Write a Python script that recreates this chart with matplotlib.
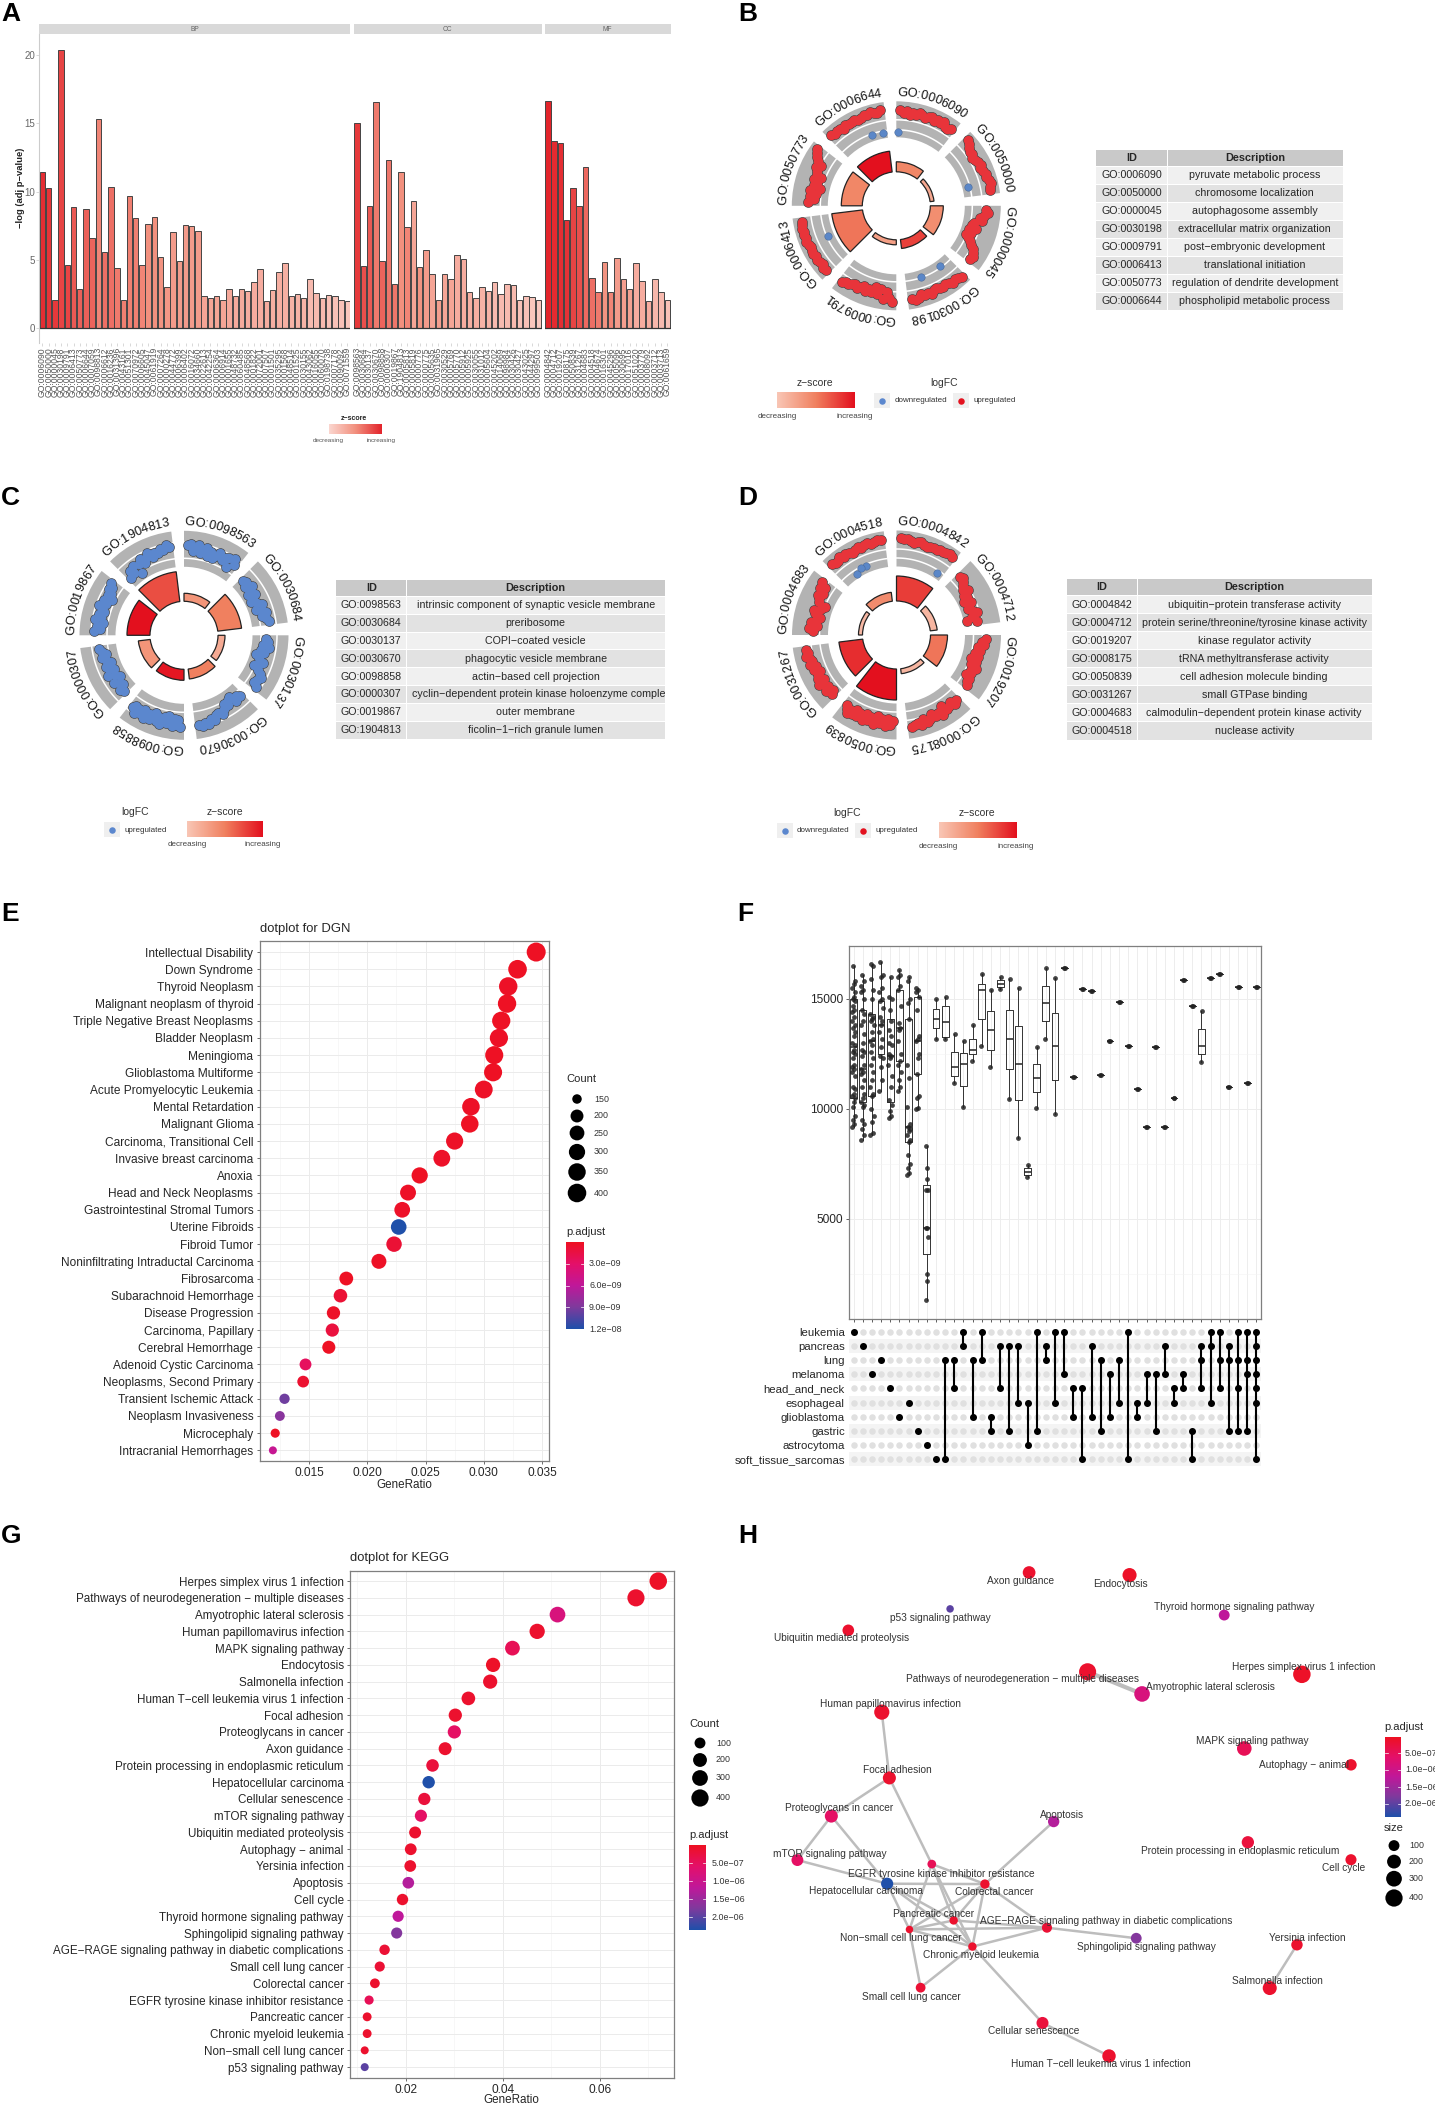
import numpy as np
import matplotlib
matplotlib.use("Agg")
import matplotlib.pyplot as plt
from matplotlib.colors import LinearSegmentedColormap, Normalize
from matplotlib.patches import Rectangle

plt.rcParams['font.family'] = ['Liberation Sans', 'DejaVu Sans']
W, H = 1435, 2105
fig = plt.figure(figsize=(W / 100, H / 100), dpi=100, facecolor='white')

# ---------------- DATA ----------------
A_BP = [11.45, 10.3, 2.1, 20.4, 4.65, 8.85, 2.85, 8.75, 6.65, 15.3, 5.6, 10.35, 4.45, 2.1, 9.7, 8.1, 4.65, 7.65, 8.15, 5.25,
        3.0, 7.05, 4.9, 7.6, 7.5, 7.15, 2.4, 2.2, 2.35, 2.05, 2.9, 2.4, 2.85, 2.75, 3.4, 4.35, 2.0, 2.8, 4.15, 4.8,
        2.35, 2.5, 2.25, 3.65, 2.6, 2.25, 2.45, 2.35, 2.1, 2.0]
A_CC = [15.05, 4.55, 8.95, 16.6, 4.95, 12.3, 3.25, 11.45, 7.45, 9.3, 4.5, 5.75, 4.0, 2.1, 4.0, 3.65, 5.4, 5.05, 2.7, 2.25,
        3.0, 2.75, 3.4, 2.55, 3.25, 3.15, 2.1, 2.4, 2.3, 2.05]
A_MF = [16.65, 13.75, 13.55, 7.9, 10.3, 8.95, 11.8, 3.7, 2.7, 4.85, 2.65, 5.15, 3.6, 2.85, 4.75, 3.5, 2.0, 3.6, 2.7, 2.1]
A_BP_Z = [.95, .92, .9, .85, .85, .75, .72, .72, .7, .55, .65, .65, .6, .58, .58, .58, .55, .5, .5, .48, .45, .42, .42, .42, .42, .42,
          .35, .35, .35, .35, .33, .32, .32, .3, .3, .3, .3, .28, .28, .27, .25, .25, .25, .2, .2, .2, .15, .15, .15, .12]
A_CC_Z = [.9, .8, .75, .6, .7, .62, .62, .5, .55, .35, .48, .42, .35, .4, .35, .35, .3, .3, .28, .28, .25, .25, .2, .2, .2, .2, .15, .15, .12, .1]
A_MF_Z = [1.0, .97, .95, .93, .85, .8, .68, .65, .6, .48, .55, .42, .4, .38, .3, .3, .3, .22, .2, .15]
A_BP_ID = ["0006090", "0050000", "0000045", "0030198", "0009791", "0006413", "0050773", "0006644", "0007059", "0098813",
           "0006612", "0016236", "0031396", "0043161", "0051301", "0070972", "0006605", "0045047", "0061919", "0007264",
           "0000278", "0044772", "0006399", "0006402", "0016072", "0034660", "0022613", "0042254", "0006364", "0006914",
           "0001655", "0048732", "0060485", "0048568", "0001822", "0072001", "0007507", "0001501", "0035295", "0001568",
           "0048514", "0001525", "0030155", "0043062", "0016055", "0060070", "0198738", "0007178", "0090092", "0071559"]
A_CC_ID = ["0098563", "0030684", "0030137", "0030670", "0098858", "0000307", "0019867", "1904813", "0005813", "0005819",
           "0000776", "0000775", "0005635", "0031965", "0030529", "0005769", "0005770", "0005912", "0005925", "0030055",
           "0031012", "0005604", "0045202", "0014069", "0098984", "0030426", "0030427", "0043025", "0044297", "0099503"]
A_MF_ID = ["0004842", "0004712", "0019207", "0008175", "0050839", "0031267", "0004683", "0004518", "0004674", "0016301",
           "0045296", "0005096", "0030695", "0017016", "0051020", "0003779", "0008092", "0003712", "0003713", "0061659"]

B_ID = ["GO:0006090", "GO:0050000", "GO:0000045", "GO:0030198", "GO:0009791", "GO:0006413", "GO:0050773", "GO:0006644"]
B_DESC = ["pyruvate metabolic process", "chromosome localization", "autophagosome assembly", "extracellular matrix organization",
          "post−embryonic development", "translational initiation", "regulation of dendrite development", "phospholipid metabolic process"]
C_ID = ["GO:0098563", "GO:0030684", "GO:0030137", "GO:0030670", "GO:0098858", "GO:0000307", "GO:0019867", "GO:1904813"]
C_DESC = ["intrinsic component of synaptic vesicle membrane", "preribosome", "COPI−coated vesicle", "phagocytic vesicle membrane",
          "actin−based cell projection", "cyclin−dependent protein kinase holoenzyme complex", "outer membrane", "ficolin−1−rich granule lumen"]
D_ID = ["GO:0004842", "GO:0004712", "GO:0019207", "GO:0008175", "GO:0050839", "GO:0031267", "GO:0004683", "GO:0004518"]
D_DESC = ["ubiquitin−protein transferase activity", "protein serine/threonine/tyrosine kinase activity", "kinase regulator activity",
          "tRNA methyltransferase activity", "cell adhesion molecule binding", "small GTPase binding",
          "calmodulin−dependent protein kinase activity", "nuclease activity"]

B_BAR_R = [44, 38, 47, 43, 39, 65, 55, 55]
B_BAR_Z = [.45, .22, .4, .78, .28, .55, .45, 1.0]
C_BAR_R = [42, 58, 41, 44, 45, 46, 57, 64]
C_BAR_Z = [.35, .5, .2, .5, .97, .35, 1.0, .72]
D_BAR_R = [59, 41, 51, 39, 65, 58, 38, 43]
D_BAR_Z = [.8, .12, .55, .12, 1.0, .87, .1, .42]

B_UP = [[96, 93, 95, 92, 94, 93, 96, 94, 92, 95, 96, 93, 95, 94, 96, 93, 92, 94],
        [97, 95, 93, 91, 92, 90, 91, 93, 94, 92, 93, 95, 94, 96, 97, 96, 95],
        [90, 92, 88, 85, 87, 80, 78, 83, 76, 80, 75, 78, 82, 84, 88, 90, 92, 91],
        [97, 95, 94, 96, 93, 92, 94, 93, 91, 92, 95, 93, 94, 92, 95, 96, 94],
        [96, 92, 87, 94, 85, 90, 84, 90, 87, 91, 86, 89, 91, 88, 90, 92, 91, 93],
        [95, 96, 94, 95, 96, 95, 96, 96, 95, 96, 97, 96, 97, 96, 97, 96, 96],
        [88, 83, 87, 81, 88, 78, 85, 83, 87, 80, 85, 87, 89, 85, 90, 93, 95, 97],
        [96, 94, 96, 95, 93, 96, 94, 95, 96, 94, 95, 96, 95, 97, 96, 95, 97]]
B_DOWN_T = [1, 75, 144, 161, 246, 350, 341]
B_DOWN_R = [74, 74, 75, 75, 75, 74, 75]
C_UP = [[90, 92, 85, 88, 92, 84, 86, 90, 83, 88, 82, 85, 90, 87, 84, 88, 90, 80, 92, 86],
        [80, 82, 78, 84, 80, 76, 82, 78, 75, 80, 84, 76, 82, 85, 80, 84, 86],
        [82, 84, 80, 86, 78, 82, 74, 78, 84, 80, 76, 82, 85, 88, 86, 84, 89],
        [83, 80, 84, 76, 78, 82, 80, 84, 88, 85, 86, 90, 88, 92, 90, 93, 91],
        [92, 85, 90, 84, 92, 86, 82, 90, 84, 88, 92, 85, 90, 83, 87, 91, 86, 88, 92, 84, 88, 90, 86, 92, 85, 88],
        [82, 84, 78, 80, 85, 76, 80, 86, 78, 82, 84, 78, 82, 85, 80, 84, 86],
        [90, 84, 88, 82, 90, 85, 88, 83, 86, 90, 84, 88, 80, 86, 84, 88, 86, 90],
        [78, 84, 80, 86, 75, 84, 88, 82, 86, 90, 84, 88, 86, 90, 88, 92, 90]]
D_UP = [[97, 96, 97, 95, 94, 95, 96, 94, 93, 94, 95, 94, 96, 95, 96, 97, 96],
        [86, 88, 85, 83, 80, 84, 78, 80, 75, 82, 78, 76, 80, 84, 78, 72, 82],
        [90, 86, 88, 82, 85, 80, 84, 78, 84, 80, 86, 82, 84, 80, 85, 84, 86],
        [88, 90, 86, 88, 90, 84, 92, 88, 90, 86, 90, 92, 88, 93, 91, 92, 93],
        [86, 90, 84, 92, 88, 85, 90, 83, 92, 87, 86, 90, 84, 92, 88, 86, 90, 85, 91, 88, 92, 89, 86],
        [88, 84, 90, 86, 88, 92, 85, 90, 88, 84, 90, 86, 92, 88, 90, 93, 90, 92],
        [84, 88, 80, 86, 82, 78, 84, 86, 80, 77, 84, 86, 88, 84, 90, 86, 91],
        [96, 94, 95, 97, 94, 96, 95, 93, 95, 96, 94, 96, 97, 95, 96, 97, 96]]
D_DOWN_T = [33, 336, 327, 332]
D_DOWN_R = [74, 75, 73, 76]

E_NAMES = ["Intellectual Disability", "Down Syndrome", "Thyroid Neoplasm", "Malignant neoplasm of thyroid",
           "Triple Negative Breast Neoplasms", "Bladder Neoplasm", "Meningioma", "Glioblastoma Multiforme",
           "Acute Promyelocytic Leukemia", "Mental Retardation", "Malignant Glioma", "Carcinoma, Transitional Cell",
           "Invasive breast carcinoma", "Anoxia", "Head and Neck Neoplasms", "Gastrointestinal Stromal Tumors",
           "Uterine Fibroids", "Fibroid Tumor", "Noninfiltrating Intraductal Carcinoma", "Fibrosarcoma",
           "Subarachnoid Hemorrhage", "Disease Progression", "Carcinoma, Papillary", "Cerebral Hemorrhage",
           "Adenoid Cystic Carcinoma", "Neoplasms, Second Primary", "Transient Ischemic Attack", "Neoplasm Invasiveness",
           "Microcephaly", "Intracranial Hemorrhages"]
E_RATIO = [.0345, .0329, .0321, .0320, .0315, .0313, .0309, .0308, .0300, .0289, .0288, .0275, .0264, .0245, .0235,
           .0230, .0227, .0223, .0210, .0182, .0177, .0171, .0170, .0167, .0147, .0145, .0129, .0125, .0121, .0119]
E_COUNT = [421, 401, 392, 390, 384, 382, 377, 376, 366, 353, 351, 336, 322, 299, 287, 281, 277, 272, 256, 222, 216, 209,
           207, 204, 179, 177, 157, 153, 148, 145]
E_PADJ = [.1, .1, .2, .1, .1, .2, .1, .1, .2, .2, .1, .2, .3, .1, .2, .3, 12, .8, .2, .1, .8, .2, 1.2, .1, 2.5, .6, 9.5, 8.5, .1, 5.5]

G_NAMES = ["Herpes simplex virus 1 infection", "Pathways of neurodegeneration − multiple diseases", "Amyotrophic lateral sclerosis",
           "Human papillomavirus infection", "MAPK signaling pathway", "Endocytosis", "Salmonella infection",
           "Human T−cell leukemia virus 1 infection", "Focal adhesion", "Proteoglycans in cancer", "Axon guidance",
           "Protein processing in endoplasmic reticulum", "Hepatocellular carcinoma", "Cellular senescence", "mTOR signaling pathway",
           "Ubiquitin mediated proteolysis", "Autophagy − animal", "Yersinia infection", "Apoptosis", "Cell cycle",
           "Thyroid hormone signaling pathway", "Sphingolipid signaling pathway", "AGE−RAGE signaling pathway in diabetic complications",
           "Small cell lung cancer", "Colorectal cancer", "EGFR tyrosine kinase inhibitor resistance", "Pancreatic cancer",
           "Chronic myeloid leukemia", "Non−small cell lung cancer", "p53 signaling pathway"]
G_RATIO = [.0721, .0675, .0513, .0471, .0420, .0380, .0374, .0329, .0302, .0300, .0281, .0255, .0247, .0238, .0231, .0219,
           .0210, .0209, .0205, .0193, .0184, .0181, .0156, .0146, .0136, .0124, .0120, .0120, .0115, .0115]
G_COUNT = [418, 391, 298, 273, 244, 220, 217, 191, 175, 174, 163, 148, 143, 138, 134, 127, 122, 121, 119, 112, 107, 105, 90,
           85, 79, 72, 70, 70, 67, 67]
G_PADJ = [.05, .1, .75, .1, .4, .05, .1, .1, .1, .5, .1, .2, 2.2, .2, .5, .1, .1, .1, 1.2, .1, 1.1, 1.6, .15, .15, .1, .4, .1, .1, .1, 1.85]

UP_ROWS = ["leukemia", "pancreas", "lung", "melanoma", "head_and_neck", "esophageal", "glioblastoma", "gastric", "astrocytoma",
           "soft_tissue_sarcomas"]
UP_SETS = [[0], [1], [3], [2], [4], [6], [5], [7], [8], [9], [2, 9], [2, 4], [0, 1], [2, 6], [0, 2], [6, 7], [1, 4], [1, 7], [1, 5],
           [5, 8], [0, 7], [1, 2], [0, 5], [0, 3], [4, 6], [4, 9], [1, 6], [2, 7], [3, 6], [2, 5], [0, 9], [5, 6], [3, 5], [3, 7],
           [1, 3], [4, 5], [3, 4], [7, 9], [1, 2, 4], [0, 1, 5], [0, 2, 4], [1, 2, 7], [0, 2, 4, 7], [0, 2, 3, 7], [0, 1, 2, 3, 4, 5, 9]]
# q1, median, q3, low whisker, high whisker per intersection
UP_BOX = [(10500, 12800, 15000, 9200, 16500), (10300, 11800, 14500, 8600, 16100), (10600, 13100, 14300, 8800, 16600),
          (12500, 13800, 14900, 10800, 16700), (10300, 12400, 14100, 9600, 16000), (12200, 13700, 15400, 10800, 16300),
          (8500, 9200, 14100, 7000, 16000), (11600, 13100, 15100, 10000, 15500), (3400, 4600, 6550, 1300, 8300),
          (13700, 14100, 14550, 13200, 15000), (13250, 13950, 14700, 13200, 15100), (11500, 11900, 12600, 11200, 13400),
          (11050, 12050, 12550, 10100, 13100), (12500, 12700, 13200, 12200, 13800), (14100, 15400, 15700, 12850, 16150),
          (12700, 13600, 14450, 11900, 15400), (15550, 15700, 15850, 15450, 16000), (11800, 13200, 14500, 10450, 15900),
          (10400, 12050, 13750, 8700, 15500), (7000, 7150, 7300, 6900, 7450), (10750, 11400, 12050, 10050, 12800),
          (14000, 14800, 15600, 13200, 16400), (11300, 12850, 14350, 9750, 15950)]
UP_SINGLE = [16400, 11460, 15436, 15350, 11543, 13070, 14880, 12850, 10920, 9160, 12800, 9180, 10490, 15870, 14680]
UP_BOX_38 = (12480, 12850, 13650, 12150, 14450)
UP_SINGLE_B = [15940, 16120, 11020, 15550, 11190, 15550]
UP_DENSE = [
    [9200, 9300, 9500, 9700, 10100, 10300, 10500, 10600, 10700, 10900, 11000, 11500, 11700, 11800, 11900, 12000, 12300, 12500, 12600, 12700, 12900, 13000, 13300, 13500, 13700, 13800, 14000, 14200, 14400, 14500, 14700, 14900, 15000, 15100, 15300, 15500, 15700, 15800, 16500],
    [8600, 8800, 9100, 9300, 9500, 10100, 10200, 10300, 10500, 10700, 11000, 11300, 11600, 11700, 11800, 12000, 12400, 12600, 12700, 13000, 13400, 13800, 14000, 14300, 14500, 15000, 15300, 15400, 15600, 15800, 16100],
    [8800, 8900, 9400, 9700, 10000, 10600, 10700, 11000, 11300, 11700, 12000, 12300, 12600, 12900, 13100, 13200, 13500, 13800, 14000, 14100, 14200, 14300, 15000, 15400, 15900, 16500, 16600],
    [10800, 11300, 11900, 12300, 12400, 12800, 13200, 13500, 13800, 14000, 14200, 14600, 14900, 15000, 15300, 15500, 16000, 16100, 16700],
    [9600, 9700, 9900, 10200, 10400, 11000, 11500, 12000, 12300, 12400, 12500, 12900, 13000, 13300, 13600, 14000, 14500, 15000, 15100, 16000],
    [10800, 11000, 11300, 11700, 12000, 12200, 12500, 13100, 13600, 13700, 13900, 14700, 15400, 15600, 16000, 16100, 16300],
    [7000, 7100, 7300, 7500, 7900, 8500, 8600, 8800, 9000, 9100, 9200, 9300, 10100, 11400, 12000, 14100, 14800, 15000, 15800, 16000],
    [10000, 10050, 10500, 10600, 11600, 12300, 12500, 13100, 13200, 13300, 14500, 15100, 15300, 15400, 15500]]
UP_ASTRO = [1300, 2200, 2500, 4200, 4600, 4600, 6300, 6300, 6800, 7300, 8300]
JITTER = [-.17, .09, -.04, .19, -.11, .04, .15, -.19, .0, .12, -.08, .17, -.14, .06]

H_X = [1281, 801, 923, 340, 1152, 895, 1209, 849, 357, 227, 670, 1160, 352, 700, 151, 265, 1391, 1270, 725, 1391, 1107, 910, 710, 427, 571, 452, 501, 543, 402, 493]
H_Y = [397, 390, 451, 501, 601, 124, 1260, 1447, 682, 787, 117, 859, 973, 1356, 908, 276, 646, 1141, 802, 907, 234, 1123, 1094, 1259, 974, 919, 1074, 1146, 1099, 217]
H_LX = [1285, 655, 1076, 360, 1171, 874, 1226, 831, 376, 245, 650, 1142, 305, 680, 223, 250, 1285, 1293, 744, 1374, 1129, 932, 842, 406, 592, 474, 455, 563, 383, 472]
H_LY = [377, 411, 433, 480, 581, 148, 1240, 1469, 660, 765, 139, 882, 994, 1379, 890, 298, 647, 1122, 784, 931, 212, 1148, 1075, 1284, 996, 945, 1055, 1169, 1122, 243]
H_EDGES = [(1, 2), (17, 6), (13, 7), (13, 27), (3, 8), (8, 9), (8, 25), (9, 14), (9, 12), (14, 12), (18, 24), (12, 24), (12, 28), (12, 26),
           (12, 27), (25, 24), (25, 28), (25, 26), (25, 27), (24, 26), (24, 28), (24, 27), (24, 22), (26, 28), (26, 27), (26, 22),
           (28, 27), (28, 22), (28, 23), (27, 23), (27, 22), (22, 21)]

# ---------------- HELPERS ----------------
def px_axes(x0, y0, x1, y1, **kw):
    return fig.add_axes([x0 / W, 1 - y1 / H, (x1 - x0) / W, (y1 - y0) / H], **kw)

RED = '#E3121F'
CM_A = LinearSegmentedColormap.from_list('a', ['#FBD6CF', '#F2907E', '#E3242B'])
CM_Z = LinearSegmentedColormap.from_list('z', ['#F9C6B5', '#F0805F', '#E3101E'])
CM_P = LinearSegmentedColormap.from_list('p', ['#EE1122', '#E4106A', '#C0189A', '#7F3A9D', '#1F50AA'])
GRID = '#EBEBEB'
BORDER = '#7F7F7F'
TXT = '#262626'

def gradient(x0, y0, x1, y1, cmap, vertical=False):
    ax = px_axes(x0, y0, x1, y1)
    g = np.linspace(0, 1, 128)
    ax.imshow(g[:, None] if vertical else g[None, :], cmap=cmap, aspect='auto', origin='upper')
    ax.set_axis_off()
    return ax

def dot_d(c, cmin, cmax, dmin, dmax):
    return dmin + (dmax - dmin) * np.sqrt((np.asarray(c, float) - cmin) / (cmax - cmin))

def pt2(dpx):
    return (np.asarray(dpx) * 0.72) ** 2

# overlay axes in pixel coordinates (for text, tables and legends)
ov = fig.add_axes([0, 0, 1, 1], zorder=20)
ov.set_xlim(0, W); ov.set_ylim(H, 0); ov.set_axis_off(); ov.patch.set_alpha(0)

for s, x, y in [('A', 1, 14), ('B', 738, 14), ('C', 1, 498), ('D', 738, 498), ('E', 1, 914), ('F', 737, 914), ('G', 1, 1536), ('H', 738, 1536)]:
    ov.text(x, y, s, fontsize=19, fontweight='bold', ha='left', va='center', color='black')

# ---------------- PANEL A ----------------
def facet(x0, x1, vals, zs, ids, label, first=False):
    ax = px_axes(x0, 34, x1, 343)
    xs = np.arange(len(vals))
    ax.bar(xs, vals, width=0.88, color=CM_A(np.asarray(zs)), edgecolor='#444444', linewidth=0.7)
    ax.axhline(0, color='#333333', lw=0.9)
    ax.set_xlim(-0.5, len(vals) - 0.5)
    ax.set_ylim(-1.07, 21.55)
    for sp in ['top', 'right', 'bottom']:
        ax.spines[sp].set_visible(False)
    ax.spines['left'].set_color('#CCCCCC' if first else 'none')
    ax.set_xticks(xs)
    ax.set_xticklabels(['GO:' + i for i in ids], rotation=90, fontsize=6.2, color='#555555')
    ax.tick_params(axis='x', length=2, width=0.4, color='#BBBBBB', pad=1)
    if first:
        ax.set_yticks([0, 5, 10, 15, 20])
        ax.tick_params(axis='y', length=2, width=0.4, color='#BBBBBB', labelsize=7, labelcolor='#666666', pad=1)
    else:
        ax.set_yticks([])
    ov.add_patch(Rectangle((x0, 24), x1 - x0, 10, fc='#D9D9D9', ec='none'))
    ov.text((x0 + x1) / 2, 29.2, label, fontsize=4.8, color='#666666', ha='center', va='center')

facet(39.3, 350.4, A_BP, A_BP_Z, A_BP_ID, 'BP', True)
facet(354, 541.5, A_CC, A_CC_Z, A_CC_ID, 'CC')
facet(544.6, 670.5, A_MF, A_MF_Z, A_MF_ID, 'MF')
ov.text(21, 188, '−log (adj p−value)', rotation=90, fontsize=6.8, fontweight='bold', ha='center', va='center', color='#222222')
ov.text(354, 418, 'z−score', fontsize=5, fontweight='bold', ha='center', va='center', color='#222222')
gradient(328.6, 424, 381, 434, CM_A)
ov.text(328, 440.5, 'decreasing', fontsize=4.6, ha='center', va='center', color='#555555')
ov.text(381, 440.5, 'increasing', fontsize=4.6, ha='center', va='center', color='#555555')

# ---------------- GO CIRCLES ----------------
CHAR_W = {'G': .778, 'O': .778, ':': .278}

def go_circle(cx, cy, ids, bar_r, bar_z, up, up_col, down_t=None, down_r=None, r_in=68.5, arcs=(76, 86)):
    Rm = 135
    ax = px_axes(cx - Rm, cy - Rm, cx + Rm, cy + Rm, projection='polar')
    ax.set_theta_zero_location('N'); ax.set_theta_direction(-1)
    ax.set_rlim(0, Rm); ax.set_axis_off()
    span = 38
    for k in range(8):
        t0 = k * 45
        tc = np.deg2rad(t0 + span / 2)
        ax.bar(tc, 104.5 - r_in, width=np.deg2rad(span), bottom=r_in, color='#B3B3B3', edgecolor='none', zorder=1)
        th = np.deg2rad(np.linspace(t0, t0 + span, 40))
        for a in arcs:
            ax.plot(th, np.full_like(th, a), color='white', lw=1.1, zorder=2)
        ax.bar(tc, bar_r[k] - 34, width=np.deg2rad(span), bottom=34, color=CM_Z(bar_z[k]), edgecolor='#222222', linewidth=0.9, zorder=3)
        vals = up[k]
        tp = np.deg2rad(np.linspace(t0 + 2.5, t0 + span - 2.5, len(vals)))
        ax.scatter(tp, vals, s=pt2(10.6), color='#444444', linewidths=0, zorder=4)
        ax.scatter(tp, vals, s=pt2(9.4), color=up_col, linewidths=0, zorder=5)
        # curved label
        label = ids[k]
        widths = [CHAR_W.get(c, .556) * 12.8 for c in label]
        total = sum(widths)
        pos = -total / 2
        for c, w in zip(label, widths):
            ang = t0 + span / 2 + np.rad2deg((pos + w / 2) / 113)
            ax.text(np.deg2rad(ang), 113, c, fontsize=9.2, color='#111111',
                    rotation=-ang, rotation_mode='anchor', ha='center', va='center', zorder=6)
            pos += w
    if down_t is not None:
        ax.scatter(np.deg2rad(down_t), down_r, s=pt2(7.4), color='#5B87C8', edgecolors='#4A6A9A', linewidths=0.4, zorder=5)

BLUE = '#5B87CE'
UPRED = '#E8343A'
go_circle(896.3, 205.8, B_ID, B_BAR_R, B_BAR_Z, B_UP, UPRED, B_DOWN_T, B_DOWN_R)
go_circle(184, 635.3, C_ID, C_BAR_R, C_BAR_Z, C_UP, BLUE, arcs=(77, 93))
go_circle(896.5, 635, D_ID, D_BAR_R, D_BAR_Z, D_UP, UPRED, D_DOWN_T, D_DOWN_R, arcs=(77, 86))

def go_table(x0, x1, x2, y0, yh, y1, ids, desc, left=None):
    ov.add_patch(Rectangle((x0, y0), x1 - x0 - 0.5, yh - y0 - 0.5, fc='#C9C9C9', ec='none'))
    ov.add_patch(Rectangle((x1 + 0.5, y0), x2 - x1 - 0.5, yh - y0 - 0.5, fc='#C9C9C9', ec='none'))
    ov.text((x0 + x1) / 2, (y0 + yh) / 2, 'ID', fontsize=7.8, fontweight='bold', ha='center', va='center', color=TXT)
    ov.text((x1 + x2) / 2, (y0 + yh) / 2, 'Description', fontsize=7.8, fontweight='bold', ha='center', va='center', color=TXT)
    rh = (y1 - yh) / 8
    for i, (a, b) in enumerate(zip(ids, desc)):
        y = yh + i * rh
        col = '#F0F0F0' if i % 2 == 0 else '#E2E2E2'
        ov.add_patch(Rectangle((x0, y + .5), x1 - x0 - 0.5, rh - 1, fc=col, ec='none'))
        r = Rectangle((x1 + 0.5, y + .5), x2 - x1 - 0.5, rh - 1, fc=col, ec='none')
        ov.add_patch(r)
        ov.text((x0 + x1) / 2, y + rh / 2, a, fontsize=7.7, ha='center', va='center', color=TXT)
        if left is not None and i == left[0]:
            t = ov.text(left[1], y + rh / 2, b, fontsize=7.7, ha='left', va='center', color=TXT)
        else:
            t = ov.text((x1 + x2) / 2, y + rh / 2, b, fontsize=7.7, ha='center', va='center', color=TXT)
        t.set_clip_on(True)
        t.set_clip_path(r)

go_table(1096, 1167, 1342.5, 150, 166.5, 310, B_ID, B_DESC)
go_table(336, 406.5, 665, 580, 596.5, 739, C_ID, C_DESC, left=(5, 411.6))
go_table(1066.6, 1137, 1371.5, 579, 595.7, 740, D_ID, D_DESC)

def z_legend(xt, yt, x0, x1, y0, y1, yl):
    ov.text(xt, yt, 'z−score', fontsize=7.5, ha='center', va='center', color='#333333')
    gradient(x0, y0, x1, y1, CM_Z)
    ov.text(x0, yl, 'decreasing', fontsize=5.8, ha='center', va='center', color='#444444')
    ov.text(x1, yl, 'increasing', fontsize=5.8, ha='center', va='center', color='#444444')

def key(x0, x1, y0, y1, col, label):
    ov.add_patch(Rectangle((x0, y0), x1 - x0, y1 - y0, fc='#EFEFEF', ec='none'))
    ov.scatter([(x0 + x1) / 2], [(y0 + y1) / 2], s=pt2(6.5), color=col, linewidths=0, zorder=5)
    ov.text(x1 + 4.5, (y0 + y1) / 2 + .5, label, fontsize=5.8, ha='left', va='center', color='#333333')

z_legend(815, 383, 777, 854.5, 392, 408, 416)
ov.text(944, 383, 'logFC', fontsize=7.5, ha='center', va='center', color='#333333')
key(874, 890, 393, 408, BLUE, 'downregulated')
key(953, 969, 393, 408, RED, 'upregulated')
ov.text(135, 812, 'logFC', fontsize=7.5, ha='center', va='center', color='#333333')
key(104, 120, 822, 837, BLUE, 'upregulated')
z_legend(224.5, 812, 187, 263, 821, 837, 845)
ov.text(847, 813, 'logFC', fontsize=7.5, ha='center', va='center', color='#333333')
key(777, 792.5, 823, 838, BLUE, 'downregulated')
key(855, 871, 823, 838, RED, 'upregulated')
z_legend(977, 813, 938.5, 1015.7, 822, 838, 846)

# ---------------- DOT PLOTS ----------------
def dotplot(box, xlim, ylim, xticks, xminor, ticklab, names, ratio, count, padj, pmax, sizes, title, title_xy, xlabel_xy, fs):
    ax = px_axes(*box)
    ys = np.arange(len(names))[::-1]
    ax.set_axisbelow(True)
    ax.scatter(ratio, ys, s=pt2(sizes), c=padj, cmap=CM_P, norm=Normalize(0, pmax), linewidths=0, zorder=3)
    ax.set_xlim(*xlim); ax.set_ylim(*ylim)
    ax.set_yticks(ys); ax.set_yticklabels(names, fontsize=fs, color=TXT)
    ax.set_xticks(xticks); ax.set_xticklabels(ticklab, fontsize=8.6, color=TXT)
    ax.set_xticks(xminor, minor=True)
    ax.grid(True, which='major', color=GRID, lw=0.7)
    ax.grid(True, which='minor', axis='x', color='#F2F2F2', lw=0.4)
    ax.tick_params(which='major', length=2.5, width=0.6, color='#555555', pad=2)
    ax.tick_params(which='minor', length=0)
    for sp in ax.spines.values():
        sp.set_color(BORDER); sp.set_linewidth(0.9)
    ov.text(*title_xy, title, fontsize=9.4, ha='left', va='center', color=TXT)
    ov.text(*xlabel_xy, 'GeneRatio', fontsize=8.4, ha='center', va='center', color=TXT)

E_D = dot_d(E_COUNT, 145, 421, 8, 19)
dotplot((259.6, 941.4, 549, 1461), (0.01076, 0.0356), (-0.62, 29.62), [.015, .02, .025, .03, .035],
        [.0125, .0175, .0225, .0275, .0325], ['0.015', '0.020', '0.025', '0.030', '0.035'],
        E_NAMES, E_RATIO, E_COUNT, E_PADJ, 12, E_D, 'dotplot for DGN', (260, 929), (404, 1485), 8.6)

G_D = dot_d(G_COUNT, 67, 418, 8, 17.5)
dotplot((350, 1570.7, 673.6, 2077.5), (0.00846, 0.07527), (-0.62, 29.62), [.02, .04, .06],
        [.01, .03, .05, .07], ['0.02', '0.04', '0.06'],
        G_NAMES, G_RATIO, G_COUNT, G_PADJ, 2.2, G_D, 'dotplot for KEGG', (350, 1558), (511.5, 2100), 8.4)

def count_legend(title, xt, yt, xd, xl, ys, labs, ds):
    ov.text(xt, yt, title, fontsize=8, ha='left', va='center', color=TXT)
    ov.scatter([xd] * len(ys), ys, s=pt2(ds), color='black', linewidths=0, zorder=5)
    for y, l in zip(ys, labs):
        ov.text(xl, y, l, fontsize=6.4, ha='left', va='center', color='#333333')

def p_legend(xt, yt, x0, x1, y0, y1, xl, tys, labs):
    ov.text(xt, yt, 'p.adjust', fontsize=8, ha='left', va='center', color=TXT)
    gradient(x0, y0, x1, y1, CM_P, vertical=True)
    for y, l in zip(tys, labs):
        ov.plot([x0, x0 + 3], [y, y], color='white', lw=0.5, zorder=5)
        ov.plot([x1 - 3, x1], [y, y], color='white', lw=0.5, zorder=5)
        ov.text(xl, y, l, fontsize=6.4, ha='left', va='center', color='#333333')

count_legend('Count', 566, 1079, 577, 594, [1099, 1116, 1133, 1152, 1172, 1193], ['150', '200', '250', '300', '350', '400'],
             dot_d([150, 200, 250, 300, 350, 400], 145, 421, 8, 19))
p_legend(566, 1232, 566, 584, 1242, 1329, 589, [1264, 1286, 1307, 1329], ['3.0e−09', '6.0e−09', '9.0e−09', '1.2e−08'])
LEG_C = [100, 200, 300, 400]
count_legend('Count', 689, 1724, 700, 716, [1743, 1760, 1778, 1798], ['100', '200', '300', '400'], dot_d(LEG_C, 67, 418, 8, 17.5))
PLAB = ['5.0e−07', '1.0e−06', '1.5e−06', '2.0e−06']
p_legend(689, 1835.5, 689, 706, 1845, 1930, 712, [1863, 1881, 1899, 1917], PLAB)

# ---------------- PANEL F ----------------
axu = px_axes(849, 946.3, 1261, 1318.5)
axu.set_axisbelow(True)
stats = []
positions = []
all_box = UP_BOX + [(v, v, v, v, v) for v in UP_SINGLE] + [UP_BOX_38] + [(v, v, v, v, v) for v in UP_SINGLE_B]
for i, (q1, m, q3, lo, hi) in enumerate(all_box):
    stats.append(dict(q1=q1, med=m, q3=q3, whislo=lo, whishi=hi, fliers=[]))
    positions.append(i)
axu.bxp(stats, positions=positions, widths=0.75, showcaps=False, showfliers=False, manage_ticks=False,
        boxprops=dict(color='#333333', lw=0.7), whiskerprops=dict(color='#333333', lw=0.7),
        medianprops=dict(color='#222222', lw=1.1))
px, py = [], []
for i, vals in enumerate(UP_DENSE):
    for j, v in enumerate(vals):
        px.append(i + JITTER[j % len(JITTER)]); py.append(v)
for j, v in enumerate(UP_ASTRO):
    px.append(8 + JITTER[j % len(JITTER)] * .5); py.append(v)
for i, (q1, m, q3, lo, hi) in enumerate(all_box):
    if i >= 9:
        px.extend([i - .05, i + .05]); py.extend([lo, hi])
axu.scatter(px, py, s=pt2(4.8), color='#222222', alpha=0.85, linewidths=0, zorder=4)
axu.set_xlim(-0.5, 44.5); axu.set_ylim(477, 17395)
axu.set_xticks(range(45)); axu.set_xticklabels([])
axu.set_yticks([5000, 10000, 15000]); axu.set_yticklabels(['5000', '10000', '15000'], fontsize=8.6, color=TXT)
axu.set_yticks([2500, 7500, 12500], minor=True)
axu.grid(True, which='major', color='#EDEDED', lw=0.7)
axu.grid(True, which='minor', axis='y', color='#F4F4F4', lw=0.4)
axu.tick_params(which='major', length=2.5, width=0.6, color='#444444', pad=2)
axu.tick_params(which='minor', length=0)
for sp in axu.spines.values():
    sp.set_color(BORDER); sp.set_linewidth(0.9)

axm = px_axes(849, 1324.8, 1261, 1466.2)
axm.set_xlim(-0.5, 44.5); axm.set_ylim(9.5, -0.5)
for r in range(1, 10, 2):
    axm.axhspan(r - .5, r + .5, color='#F4F4F4', lw=0)
gx = np.repeat(np.arange(45), 10)
gy = np.tile(np.arange(10), 45)
axm.scatter(gx, gy, s=pt2(6.5), color='#E0E0E0', linewidths=0, zorder=2)
for i, rows in enumerate(UP_SETS):
    if len(rows) > 1:
        axm.plot([i, i], [min(rows), max(rows)], color='black', lw=1.5, zorder=3)
    axm.scatter([i] * len(rows), rows, s=pt2(7), color='black', linewidths=0, zorder=4)
axm.set_xticks([])
axm.set_yticks(range(10)); axm.set_yticklabels(UP_ROWS, fontsize=8.2, color=TXT)
axm.tick_params(axis='y', length=0, pad=3)
for sp in axm.spines.values():
    sp.set_visible(False)

# ---------------- PANEL H ----------------
axh = px_axes(730, 1530, 1430, 2100)
axh.set_xlim(0, 1568); axh.set_ylim(1568, 0); axh.set_axis_off()
for n, (a, b) in enumerate(H_EDGES):
    axh.plot([H_X[a], H_X[b]], [H_Y[a], H_Y[b]], color='#BDBDBD', lw=3 if n == 0 else 1.8, zorder=1, solid_capstyle='round')
H_D = dot_d(G_COUNT, 67, 418, 7.5, 17.5)
axh.scatter(H_X, H_Y, s=pt2(H_D), c=G_PADJ, cmap=CM_P, norm=Normalize(0, 2.2), linewidths=0, zorder=2)
for name, x, y in zip(G_NAMES, H_LX, H_LY):
    axh.text(x, y, name, fontsize=7.3, ha='center', va='center', color='#333333', zorder=3)
p_legend(1384, 1727, 1384.5, 1400.5, 1736.5, 1816.5, 1405, [1753, 1770, 1787, 1803.5], PLAB)
count_legend('size', 1384, 1828, 1394, 1409, [1845.6, 1861.6, 1878.7, 1898], ['100', '200', '300', '400'], dot_d(LEG_C, 67, 418, 8, 17.5))

fig.savefig('out.png', dpi=100, facecolor='white')
